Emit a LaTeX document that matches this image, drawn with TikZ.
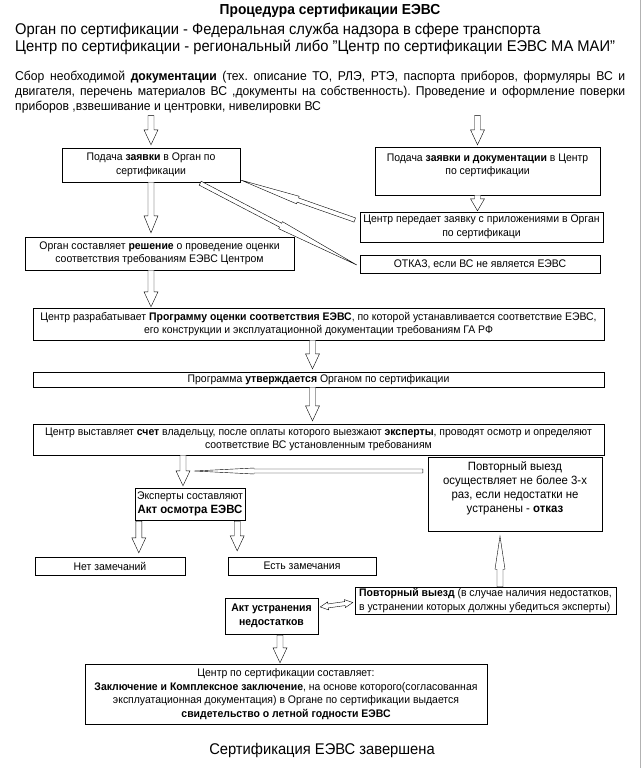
\documentclass[tikz,border=0pt]{standalone}
\usepackage{fontspec}
\setmainfont{Liberation Sans}[FakeStretch=0.95]
\usetikzlibrary{calc}
\frenchspacing
\tikzset{ashaft/.store in=\ashaft, ahead/.store in=\ahead, alen/.store in=\alen,
  ashaft=3pt, ahead=7pt, alen=15pt}
\begin{document}
\begin{tikzpicture}[x=1pt,y=-1pt,
  box/.style={draw, fill=white, align=center, inner sep=1pt, font=\fontsize{11}{13.5}\selectfont},
  barrow/.style={draw, fill=white, to path={
    let \p1=($(\tikztotarget)!\alen!(\tikztostart)$) in
    ($(\tikztostart)!\ashaft!90:(\tikztotarget)$) -- ($(\p1)!\ashaft!90:(\tikztotarget)$)
    -- ($(\p1)!\ahead!90:(\tikztotarget)$) -- (\tikztotarget)
    -- ($(\p1)!\ahead!-90:(\tikztotarget)$) -- ($(\p1)!\ashaft!-90:(\tikztotarget)$)
    -- ($(\tikztostart)!\ashaft!-90:(\tikztotarget)$) -- cycle}},
  dbarrow/.style={draw, fill=white, to path={
    let \p1=($(\tikztostart)!\alen!(\tikztotarget)$), \p2=($(\tikztotarget)!\alen!(\tikztostart)$) in
    (\tikztostart) -- ($(\p1)!\ahead!90:(\tikztotarget)$) -- ($(\p1)!\ashaft!90:(\tikztotarget)$)
    -- ($(\p2)!\ashaft!90:(\tikztotarget)$) -- ($(\p2)!\ahead!90:(\tikztotarget)$) -- (\tikztotarget)
    -- ($(\p2)!\ahead!-90:(\tikztotarget)$) -- ($(\p2)!\ashaft!-90:(\tikztotarget)$)
    -- ($(\p1)!\ashaft!-90:(\tikztotarget)$) -- ($(\p1)!\ahead!-90:(\tikztotarget)$) -- cycle}}]
\useasboundingbox (0,0) rectangle (643,768);
\draw[gray!60] (640.5,0) -- (640.5,768);
\node[font=\fontsize{14.5}{16}\selectfont\bfseries] (title) at (330,11) {Процедура сертификации ЕЭВС};
\node[anchor=north west, align=left, inner sep=0pt, font=\fontsize{15.5}{16.5}\selectfont] (org) at (15,23)
  {Орган по сертификации - Федеральная служба надзора в сфере транспорта\\
   Центр по сертификации - региональный либо "Центр по сертификации ЕЭВС МА МАИ"};
\node[anchor=north west, text width=610pt, align=justify, inner sep=0pt, font=\fontsize{12.8}{15}\selectfont] (docs) at (15,71)
  {Сбор необходимой \textbf{документации} (тех. описание ТО, РЛЭ, РТЭ, паспорта приборов, формуляры ВС и\linebreak
   двигателя, перечень материалов ВС ,документы на собственность). Проведение и оформление поверки\linebreak
   приборов ,взвешивание и центровки, нивелировки ВС};

\node[box, minimum width=178pt, minimum height=34pt] (b1) at (151,165) {Подача \textbf{заявки} в Орган по\\сертификации};
\node[box, minimum width=225pt, minimum height=48pt] (b2) at (487.5,171) {Подача \textbf{заявки и документации} в Центр\\по сертификации\\\mbox{}};
\node[box, minimum width=243pt, minimum height=30pt] (b3) at (481.5,227) {Центр передает заявку с приложениями в Орган\\по сертификаци};
\node[box, minimum width=269pt, minimum height=33pt] (b4) at (159.5,253.5) {Орган составляет \textbf{решение} о проведение оценки\\соответствия требованиям ЕЭВС Центром};
\node[box, minimum width=240pt, minimum height=18pt] (b5) at (480,264) {ОТКАЗ, если ВС не является ЕЭВС};
\node[box, minimum width=571pt, minimum height=32pt] (b6) at (318.5,324) {Центр разрабатывает \textbf{Программу оценки соответствия ЕЭВС}, по которой устанавливается соответствие ЕЭВС,\\его конструкции и эксплуатационной документации требованиям ГА РФ};
\node[box, minimum width=571pt, minimum height=15pt] (b7) at (318.5,379.5) {Программа \textbf{утверждается} Органом по сертификации};
\node[box, minimum width=571pt, minimum height=31pt] (b8) at (318.5,439.5) {Центр выставляет \textbf{счет} владельцу, после оплаты которого выезжают \textbf{эксперты}, проводят осмотр и определяют\\соответствие ВС установленным требованиям};
\node[box, minimum width=174pt, minimum height=74pt, font=\fontsize{12}{14}\selectfont] (b9) at (515,494) {Повторный выезд\\осуществляет не более 3-х\\раз, если недостатки не\\устранены - \textbf{отказ}\\\mbox{}};
\node[box, minimum width=110pt, minimum height=32pt] (b10) at (190,504) {Эксперты составляют\\{\fontsize{12}{14}\selectfont\textbf{Акт осмотра ЕЭВС}}};
\node[box, minimum width=150pt, minimum height=18pt] (b11) at (110,566) {Нет замечаний};
\node[box, minimum width=148pt, minimum height=18pt] (b12) at (302,566) {Есть замечания};
\node[box, minimum width=261pt, minimum height=27pt, align=left] (b13) at (485.5,600.5) {\textbf{Повторный выезд} (в случае наличия недостатков,\\в устранении которых должны убедиться эксперты)};
\node[box, minimum width=93pt, minimum height=36pt] (b14) at (271.5,616) {\textbf{Акт устранения}\\\textbf{недостатков}};
\node[box, minimum width=402pt, minimum height=60pt] (b15) at (286,694) {Центр по сертификации составляет:\\\textbf{Заключение и Комплексное заключение}, на основе которого(согласованная\\эксплуатационная документация) в Органе по сертификации выдается\\\textbf{свидетельство о летной годности ЕЭВС}};
\node[font=\fontsize{15.5}{17}\selectfont] (done) at (322,750) {Сертификация ЕЭВС завершена};
\coordinate (join) at (194,471);

\draw[barrow] ($(b1.north |- docs.south)+(0,2)$) to ($(b1.north)+(0,-3)$);
\draw[barrow] ($(b2.north |- docs.south)+(-10,2)$) to ($(b2.north)+(-10,-2)$);
\draw[barrow, alen=17pt] (b1.south) to ($(b1.south |- b4.north)+(0,-4)$);
\draw[barrow, alen=12pt] ($(b2.south)+(-10,0)$) to ($(b2.south |- b3.north)+(-10,-1)$);
\draw[barrow] (b1.south |- b4.south) to ($(b1.south |- b6.north)+(0,-1)$);
\draw[barrow] ($(b6.south)+(-6,0)$) to ($(b7.north)+(-6,-3)$);
\draw[barrow] ($(b7.south)+(-6,0)$) to ($(b8.north)+(-6,-3)$);
\draw[barrow] ($(b10.north |- b8.south)+(-7,0)$) to ($(b10.north)+(-7,-2)$);
\draw[barrow] ($(b10.south west)+(4,1)$) to ($(b10.south west |- b11.north)+(4,-4)$);
\draw[barrow] ($(b10.south east)+(-8,1)$) to ($(b10.south east |- b11.north)+(-8,-6)$);
\draw[barrow, ashaft=2pt, ahead=3pt, alen=60pt] ($(b9.west |- join)+(-5,0)$) to (join);
\draw[barrow, ashaft=3pt, ahead=5pt, alen=33pt] ($(b13.north)+(14.5,0)$) to ($(b13.north |- b9.south)+(14.5,5)$);
\draw[dbarrow, ashaft=2pt, ahead=4pt, alen=8pt] ($(b14.east)+(2,-9)$) to ($(b13.west)+(-2,2)$);
\draw[barrow] ($(b14.south)+(8.5,1)$) to ($(b14.south |- b15.north)+(8.5,-1)$);
\draw[barrow, ashaft=2.2pt, ahead=4pt, alen=60pt] ($(b3.west)+(-5,-7)$) to ($(b1.south east)+(1,-2)$);
\draw[barrow, ashaft=2.2pt, ahead=4pt, alen=86pt] ($(b1.south east)+(-40,1)$) to ($(b5.west)+(-3,1)$);
\end{tikzpicture}
\end{document}
